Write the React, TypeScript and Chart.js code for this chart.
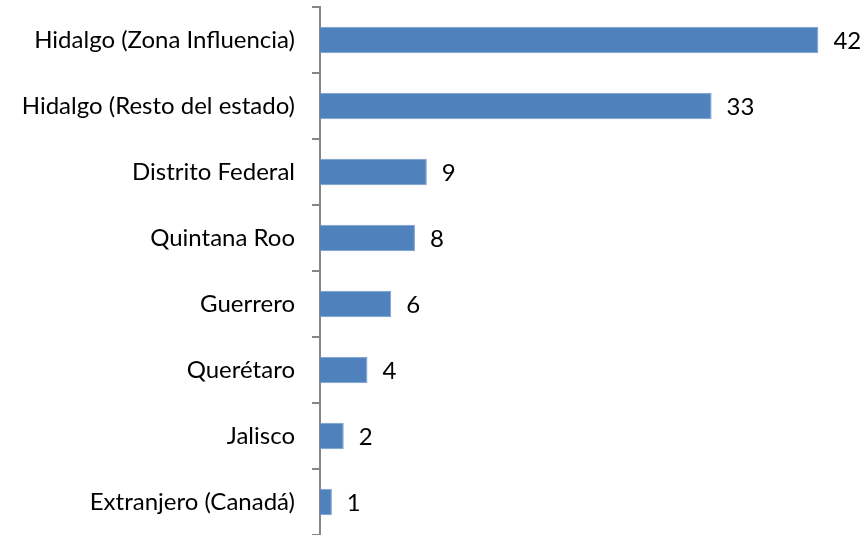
import React, { useEffect, useRef } from "react";
import { Chart, registerables } from "chart.js";

Chart.register(...registerables);

const categories = [
  "Hidalgo (Zona Influencia)",
  "Hidalgo (Resto del estado)",
  "Distrito Federal",
  "Quintana Roo",
  "Guerrero",
  "Querétaro",
  "Jalisco",
  "Extranjero (Canadá)",
];
const values = [42, 33, 9, 8, 6, 4, 2, 1];
const xMax = 45;

const FONT = "Lato, 'Open Sans', sans-serif";
const FONT_SIZE = 24;

const valueLabels = {
  id: "valueLabels",
  afterDatasetsDraw(chart: any) {
    const ctx = chart.ctx;
    const meta = chart.getDatasetMeta(0);
    ctx.save();
    ctx.font = `${FONT_SIZE}px ${FONT}`;
    ctx.fillStyle = "#000000";
    ctx.textAlign = "left";
    ctx.textBaseline = "middle";
    meta.data.forEach((bar: any, i: number) => {
      ctx.fillText(String(values[i]), bar.x + 15, bar.y + 1);
    });
    ctx.restore();
  },
};

export default function App() {
  const ref = useRef<HTMLCanvasElement>(null);
  useEffect(() => {
    document.body.style.margin = "0";
    const chart = new Chart(ref.current!, {
      type: "bar",
      data: {
        labels: categories,
        datasets: [
          {
            data: values,
            backgroundColor: "#4F81BD",
            borderColor: "#7A9FD0",
            borderWidth: 1,
            barPercentage: 0.4,
            categoryPercentage: 1,
          },
        ],
      },
      options: {
        indexAxis: "y",
        animation: false,
        responsive: false,
        layout: { padding: { top: 7, right: 9, bottom: 0, left: 0 } },
        plugins: { legend: { display: false }, tooltip: { enabled: false } },
        scales: {
          x: {
            display: false,
            min: 0,
            max: xMax,
          },
          y: {
            afterFit: (s: any) => {
              s.width = 320;
              s.paddingTop = 0;
              s.paddingBottom = 0;
            },
            border: { display: true, color: "#868686", width: 2 },
            grid: {
              display: true,
              drawOnChartArea: false,
              drawTicks: true,
              tickLength: 8,
              color: "#868686",
              lineWidth: 2,
              offset: true,
            },
            ticks: {
              color: "#000000",
              font: { family: FONT, size: FONT_SIZE },
              padding: 17,
            },
          },
        },
      },
      plugins: [valueLabels],
    });
    return () => chart.destroy();
  }, []);
  return (
    <div style={{ position: "absolute", left: 0, top: 0, width: 863, height: 535, background: "#fff" }}>
      <canvas ref={ref} width={863} height={535} />
    </div>
  );
}
